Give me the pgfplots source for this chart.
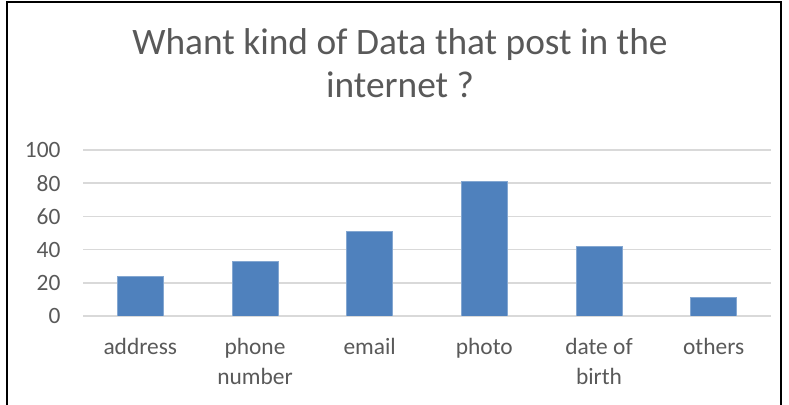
\documentclass[border=0pt]{standalone}
\usepackage{pgfplots}
\pgfplotsset{compat=1.18}
\usepackage{fontspec}
\setmainfont{Carlito}
\definecolor{barblue}{HTML}{4F81BD}
\definecolor{txtgray}{HTML}{595959}
\definecolor{gridgray}{HTML}{D9D9D9}
\begin{document}
\begin{tikzpicture}[x=1bp,y=1bp]
\draw[line width=1.8bp, black] (7bp,-10bp) -- (7bp,403bp) -- (781bp,403bp) -- (781bp,-10bp);
\node[anchor=base, text=txtgray, font=\fontsize{37.5}{45}\selectfont] at (400bp,350bp) {Whant kind of Data that post in the};
\node[anchor=base, text=txtgray, font=\fontsize{37.5}{45}\selectfont] at (400bp,307bp) {internet ?};
\begin{axis}[
  at={(83bp,89bp)}, anchor=south west,
  scale only axis, width=688bp, height=166bp,
  xmin=-0.5, xmax=5.5, ymin=0, ymax=100,
  ytick={0,20,40,60,80,100},
  xtick={0,1,2,3,4,5},
  xticklabels={address,{phone\\number},email,photo,{date of\\birth},others},
  xticklabel style={align=center, text=txtgray, font=\fontsize{23.5}{30}\selectfont, anchor=north, yshift=-19bp},
  yticklabel style={text=txtgray, font=\fontsize{23.5}{26}\selectfont, xshift=-19bp},
  /pgf/number format/assume math mode=true,
  major tick length=0,
  axis line style={draw=none},
  ymajorgrids, grid style={gridgray, line width=1.5bp},
  ybar, bar width=46bp,
]
\addplot[fill=barblue, draw=barblue!70!white, line width=0.6bp] coordinates {(0,24) (1,33) (2,51) (3,81) (4,42) (5,11)};
\end{axis}
\pgfresetboundingbox
\path[use as bounding box] (0bp,0bp) rectangle (789bp,405bp);
\end{tikzpicture}
\end{document}
